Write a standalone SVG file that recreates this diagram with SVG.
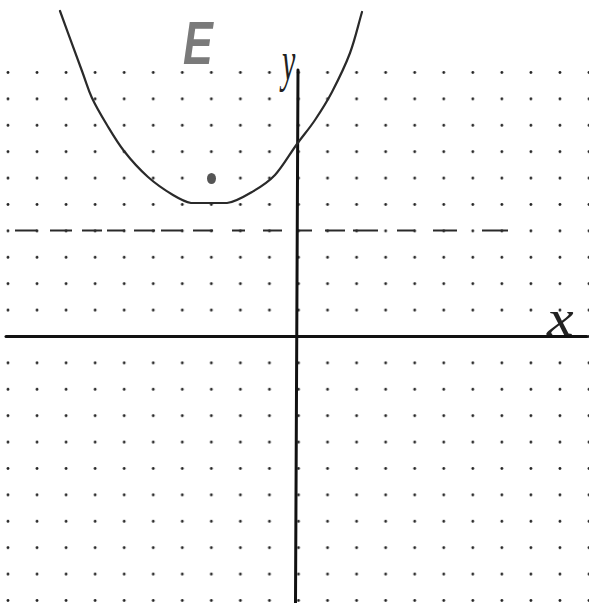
<svg xmlns="http://www.w3.org/2000/svg" width="589" height="603" viewBox="0 0 589 603">
  <defs>
    <pattern id="dots" patternUnits="userSpaceOnUse" x="-6.5" y="6.5" width="29.05" height="26.4">
      <circle cx="14.5" cy="13.2" r="1.4" fill="#222"/>
    </pattern>
    <style>
      .axis { stroke: #111; stroke-width: 3; fill: none; stroke-linecap: round; }
      .curve { stroke: #2a2a2a; stroke-width: 2.2; fill: none; stroke-linecap: round; stroke-linejoin: round; }
      .dash { stroke: #2a2a2a; stroke-width: 2; fill: none; }
      .lbl { font-family: "Liberation Serif", "DejaVu Serif", serif; font-style: italic; fill: #222; }
    </style>
  </defs>
  <rect width="589" height="603" fill="#ffffff"/>

  <g id="grid">
    <rect x="0" y="60" width="589" height="543" fill="url(#dots)"/>
  </g>

  <g id="directrix">
    <path class="dash" d="M15 230.5H37M50 230.5H72M82 230.5H102M107 230.5H125M134 230.5H155M161 230.5H183M193 230.5H213M232 230.5H245M263 230.5H282M297 230.5H312M325 230.5H345M353 230.5H378M397 230.5H415M433 230.5H457M482 230.5H508"/>
  </g>

  <g id="axes">
    <line class="axis" x1="6" y1="336.5" x2="587" y2="336.5"/>
    <line class="axis" x1="298" y1="70" x2="295.5" y2="603"/>
  </g>

  <g id="parabola">
    <path class="curve" d="M60 11 C67.3 31 76.7 56.5 82 71 C87.3 85.5 87.8 89 92 98 C96.2 107 101.7 116.2 107 125 C112.3 133.8 117.2 142.3 124 151 C130.8 159.7 139.8 169.7 148 177 C156.2 184.3 165.8 190.7 173 195 C180.2 199.3 185 202 191 203 L227 203 C234 202.5 244 196.7 252 192 C260 187.3 267.5 183 275 175 C282.5 167 290 153.5 297 144 C304 134.5 309.2 128.7 315 120 C320.8 111.3 326.2 103.2 332 92 C337.8 80.8 345 66.3 350 53 C355 39.7 358 25.7 362 12"/>
  </g>

  <g id="focus">
    <ellipse cx="211.5" cy="178.5" rx="4.5" ry="5.5" fill="#555"/>
  </g>

  <g id="label-E">
    <text transform="translate(183,64) scale(0.72,1)" font-family="Liberation Sans, Arial, sans-serif" font-size="62" font-weight="bold" font-style="italic" fill="#7a7a7a">E</text>
  </g>
  <g id="label-y">
    <text class="lbl" transform="translate(282,80) scale(1,1.9)" font-size="30">y</text>
  </g>
  <g id="label-x">
    <text class="lbl" transform="translate(547,335) scale(1.5,1.25)" font-size="40">x</text>
  </g>
</svg>
